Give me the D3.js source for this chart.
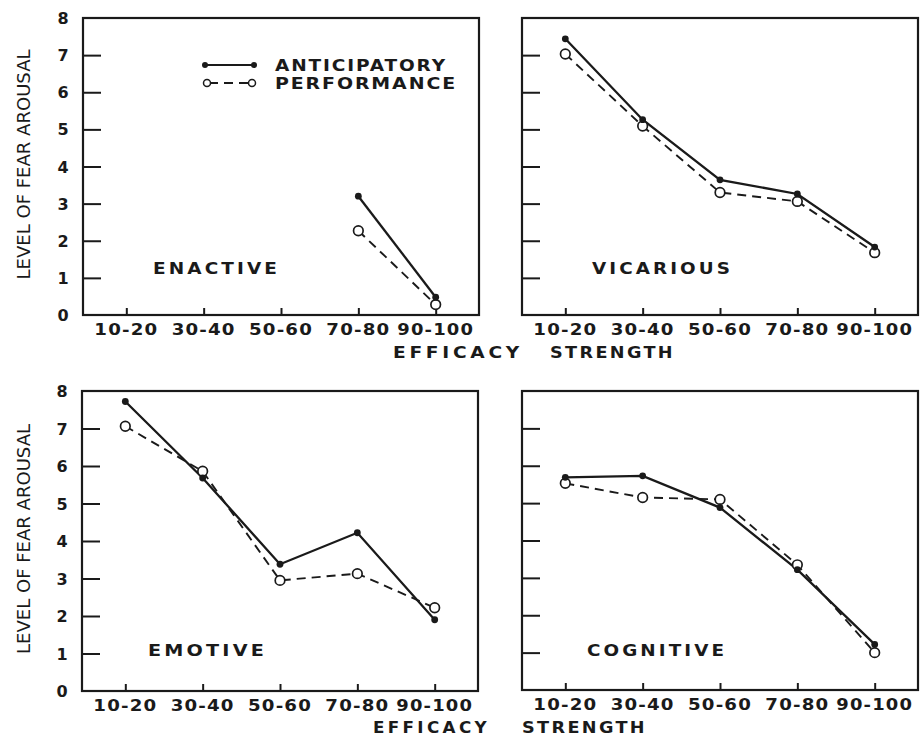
<!DOCTYPE html>
<html>
<head>
<meta charset="utf-8">
<script src="https://cdn.jsdelivr.net/npm/d3@7"></script>
<style>
  html, body { margin: 0; padding: 0; background: #fff; }
  svg { display: block; }
  text { font-family: "DejaVu Sans", Verdana, sans-serif; fill: #1a1a1a; }
</style>
</head>
<body>
<svg id="chart" width="924" height="736"></svg>
<script>
// ---------- DATA ----------
const categories = ["10-20", "30-40", "50-60", "70-80", "90-100"];
const yTicks = [0, 1, 2, 3, 4, 5, 6, 7, 8];
const panelNames = ["ENACTIVE", "VICARIOUS", "EMOTIVE", "COGNITIVE"];
const seriesNames = ["ANTICIPATORY", "PERFORMANCE"];

const enactiveAnticipatory   = [null, null, null, 3.2, 0.48];
const enactivePerformance    = [null, null, null, 2.27, 0.28];
const vicariousAnticipatory  = [7.44, 5.26, 3.64, 3.26, 1.83];
const vicariousPerformance   = [7.03, 5.09, 3.3, 3.06, 1.68];
const emotiveAnticipatory    = [7.72, 5.68, 3.38, 4.22, 1.9];
const emotivePerformance     = [7.06, 5.86, 2.95, 3.13, 2.22];
const cognitiveAnticipatory  = [5.69, 5.73, 4.88, 3.22, 1.22];
const cognitivePerformance   = [5.53, 5.15, 5.1, 3.35, 1.0];

const xTitle = "EFFICACY  STRENGTH";
const yTitle = "LEVEL OF FEAR AROUSAL";

// ---------- LAYOUT ----------
const panels = [
  { name: panelNames[0], ant: enactiveAnticipatory,  perf: enactivePerformance,  left: 83,  right: 479, top: 18,  bottom: 315, yLabels: true,  legend: true },
  { name: panelNames[1], ant: vicariousAnticipatory, perf: vicariousPerformance, left: 522, right: 918, top: 18,  bottom: 315, yLabels: false, legend: false },
  { name: panelNames[2], ant: emotiveAnticipatory,   perf: emotivePerformance,   left: 82,  right: 478, top: 391, bottom: 691, yLabels: true,  legend: false },
  { name: panelNames[3], ant: cognitiveAnticipatory, perf: cognitivePerformance, left: 522, right: 918, top: 391, bottom: 690, yLabels: false, legend: false }
];
const labelPos = [
  { x: 153, y: 268, w: 127 }, { x: 592, y: 268, w: 141 }, { x: 148, y: 650, w: 119 }, { x: 587, y: 650, w: 140 }
];

const svg = d3.select("#chart");
const ink = "#1a1a1a";

panels.forEach((p, i) => {
  const x = d3.scalePoint().domain(categories).range([p.left, p.right]).padding(0.56);
  const y = d3.scaleLinear().domain([0, 8]).range([p.bottom, p.top]);
  const g = svg.append("g");

  // frame
  g.append("rect")
    .attr("x", p.left).attr("y", p.top)
    .attr("width", p.right - p.left).attr("height", p.bottom - p.top)
    .attr("fill", "none").attr("stroke", ink).attr("stroke-width", 2.2);

  // y ticks (inside)
  const yAxis = d3.axisRight(y).tickValues(yTicks.filter(d => d > 0 && d < 8)).tickSize(18).tickFormat("");
  const ya = g.append("g").attr("transform", `translate(${p.left},0)`).call(yAxis);
  ya.select(".domain").remove();
  ya.selectAll(".tick line").attr("stroke", ink).attr("stroke-width", 2);

  // x ticks (inside, upward)
  const xAxis = d3.axisTop(x).tickSize(7).tickFormat("");
  const xa = g.append("g").attr("transform", `translate(0,${p.bottom})`).call(xAxis);
  xa.select(".domain").remove();
  xa.selectAll(".tick line").attr("stroke", ink).attr("stroke-width", 2);

  // x tick labels
  g.selectAll("text.xl").data(categories).enter().append("text")
    .attr("class", "xl")
    .attr("x", d => x(d))
    .attr("y", p.bottom + 20)
    .attr("text-anchor", "middle")
    .attr("font-size", 15.5).attr("font-weight", "bold")
    .attr("letter-spacing", 1)
    .attr("textLength", d => d.length * 12.8).attr("lengthAdjust", "spacingAndGlyphs")
    .text(d => d);

  // y tick labels
  if (p.yLabels) {
    g.selectAll("text.yl").data(yTicks).enter().append("text")
      .attr("class", "yl")
      .attr("x", p.left - 20)
      .attr("y", d => y(d) + 6)
      .attr("text-anchor", "middle")
      .attr("font-size", 16).attr("font-weight", "bold")
      .text(d => d);
    // y title
    const cy = (p.top + p.bottom) / 2 - 2;
    g.append("text")
      .attr("transform", `translate(30,${cy}) rotate(-90)`)
      .attr("text-anchor", "middle")
      .attr("font-size", 18)
      .attr("textLength", 230).attr("lengthAdjust", "spacingAndGlyphs")
      .text(yTitle);
  }

  // panel label
  g.append("text")
    .attr("x", labelPos[i].x).attr("y", labelPos[i].y + 6)
    .attr("font-size", 15).attr("font-weight", "bold")
    .attr("letter-spacing", 2.5)
    .attr("textLength", labelPos[i].w).attr("lengthAdjust", "spacingAndGlyphs")
    .text(p.name);

  // lines
  const pts = arr => categories.map((c, k) => ({ c, v: arr[k] }));
  const line = d3.line().defined(d => d.v != null).x(d => x(d.c)).y(d => y(d.v));

  g.append("path").datum(pts(p.perf))
    .attr("d", line).attr("fill", "none")
    .attr("stroke", ink).attr("stroke-width", 1.9)
    .attr("stroke-dasharray", "9,6");
  g.append("path").datum(pts(p.ant))
    .attr("d", line).attr("fill", "none")
    .attr("stroke", ink).attr("stroke-width", 2.3);

  g.selectAll("circle.perf").data(pts(p.perf).filter(d => d.v != null)).enter().append("circle")
    .attr("class", "perf")
    .attr("cx", d => x(d.c)).attr("cy", d => y(d.v)).attr("r", 4.8)
    .attr("fill", "#fff").attr("stroke", ink).attr("stroke-width", 1.7);
  g.selectAll("circle.ant").data(pts(p.ant).filter(d => d.v != null)).enter().append("circle")
    .attr("class", "ant")
    .attr("cx", d => x(d.c)).attr("cy", d => y(d.v)).attr("r", 3.4)
    .attr("fill", ink);

  // legend
  if (p.legend) {
    const lg = g.append("g");
    const ly = [65, 83];
    lg.append("line").attr("x1", 205).attr("x2", 254).attr("y1", ly[0]).attr("y2", ly[0])
      .attr("stroke", ink).attr("stroke-width", 2.2);
    lg.selectAll("circle.la").data([205, 254]).enter().append("circle")
      .attr("cx", d => d).attr("cy", ly[0]).attr("r", 3).attr("fill", ink);
    lg.append("line").attr("x1", 205).attr("x2", 254).attr("y1", ly[1]).attr("y2", ly[1])
      .attr("stroke", ink).attr("stroke-width", 1.8).attr("stroke-dasharray", "9,6").attr("stroke-dashoffset", -4);
    lg.selectAll("circle.lp").data([207, 252]).enter().append("circle")
      .attr("cx", d => d).attr("cy", ly[1]).attr("r", 3.5)
      .attr("fill", "#fff").attr("stroke", ink).attr("stroke-width", 1.5);
    const lw = [172, 182];
    lg.selectAll("text").data(seriesNames).enter().append("text")
      .attr("x", 275).attr("y", (d, k) => ly[k] + 6)
      .attr("font-size", 15).attr("font-weight", "bold")
      .attr("letter-spacing", 1.5)
      .attr("textLength", (d, k) => lw[k]).attr("lengthAdjust", "spacingAndGlyphs")
      .text(d => d);
  }
});

// x titles
[{ x1: 393, w1: 130, x2: 550, w2: 125, y: 352 }, { x1: 373, w1: 117, x2: 522, w2: 125, y: 727 }].forEach(t => {
  const words = xTitle.split(/\s+/);
  svg.append("text").attr("x", t.x1).attr("y", t.y + 6)
    .attr("font-size", 15).attr("font-weight", "bold").attr("letter-spacing", 3)
    .attr("textLength", t.w1).attr("lengthAdjust", "spacingAndGlyphs")
    .text(words[0]);
  svg.append("text").attr("x", t.x2).attr("y", t.y + 6)
    .attr("font-size", 15).attr("font-weight", "bold").attr("letter-spacing", 2)
    .attr("textLength", t.w2).attr("lengthAdjust", "spacingAndGlyphs")
    .text(words[1]);
});
</script>
</body>
</html>
